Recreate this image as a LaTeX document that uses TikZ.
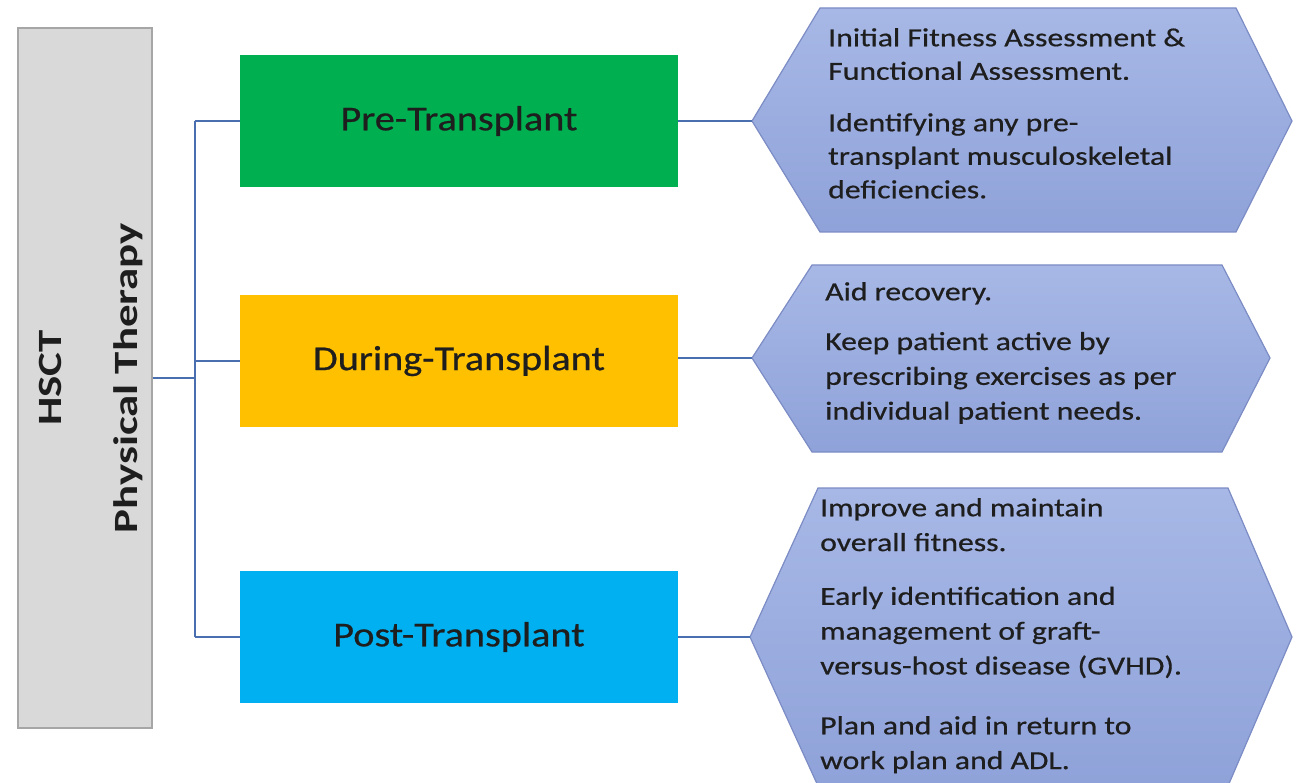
\documentclass[tikz,border=0pt]{standalone}
\usepackage{fontspec}
\setmainfont{Carlito}
\newfontfamily\phasefont{Carlito}[FakeStretch=1.15,FakeBold=0.6]
\newfontfamily\hexfont{Carlito}[FakeStretch=1.22,FakeBold=0.6]
\newfontfamily\rootfont{Carlito}[FakeStretch=1.32]
\definecolor{pregreen}{HTML}{00B050}
\definecolor{duryellow}{HTML}{FFC000}
\definecolor{postblue}{HTML}{00B0F0}
\definecolor{rootgray}{HTML}{D9D9D9}
\definecolor{rootedge}{HTML}{A6A6A6}
\definecolor{linkblue}{HTML}{4A6FB0}
\definecolor{hextop}{HTML}{A7B8E6}
\definecolor{hexbot}{HTML}{8FA2D9}
\definecolor{hexedge}{HTML}{7C8CC4}
\definecolor{ink}{HTML}{1E1E1E}
\tikzset{
  rootbox/.style={draw=rootedge, line width=1.2pt, fill=rootgray, minimum width=134pt, minimum height=700pt, inner sep=0pt},
  rootlabel/.style={inner sep=0pt, text=ink, font=\rootfont\fontsize{34}{41}\selectfont\bfseries},
  phase/.style={minimum width=438pt, minimum height=132pt, inner sep=0pt, text=ink,
                font=\phasefont\fontsize{35}{40}\selectfont},
  conn/.style={draw=linkblue, line width=1.6pt},
  hexbox/.style={draw=hexedge, line width=1.2pt, top color=hextop, bottom color=hexbot, line join=miter},
  hextext/.style={anchor=north west, align=left, inner sep=0pt, text=ink,
                  font=\hexfont\fontsize{26}{33.5}\selectfont}
}
\begin{document}
\begin{tikzpicture}[x=1pt,y=-1pt]
  \useasboundingbox (0,0) rectangle (1298,783);
  \clip (0,0) rectangle (1298,783);

  % root column and its rotated title
  \node[rootbox] (root) at (85,378) {};
  \node[rootlabel] (title) at (91,378) {\rotatebox{90}{%
    \begin{tabular}{@{}c@{}}HSCT\\[35pt]Physical Therapy\end{tabular}}};

  % phase boxes
  \node[phase, fill=pregreen]   (pre)  at (459,121) {Pre-Transplant};
  \node[phase, fill=duryellow]  (dur)  at (459,361) {During-Transplant};
  \node[phase, fill=postblue]   (post) at (459,637) {Post-Transplant};

  % hexagons with their tips
  \coordinate (h1L) at (752,121);  \coordinate (h1R) at (1292,121);
  \coordinate (h2L) at (752,358);  \coordinate (h2R) at (1270,358);
  \coordinate (h3L) at (750,637);  \coordinate (h3R) at (1292,637);
  \path[hexbox] (h1L) -- (820,8) -- (1236,8) -- (h1R) -- (1236,232) -- (820,232) -- cycle;
  \path[hexbox] (h2L) -- (812,265) -- (1222,265) -- (h2R) -- (1222,452) -- (812,452) -- cycle;
  \path[hexbox] (h3L) -- (818,488) -- (1228,488) -- (h3R) -- (1228,786) -- (818,786) -- cycle;

  % hexagon texts
  \node[hextext] (t1) at (828,28) {Initial Fitness Assessment \&\\Functional Assessment.\\[18pt]
    Identifying any pre-\\transplant musculoskeletal\\deficiencies.};
  \node[hextext, font=\hexfont\fontsize{26}{34.8}\selectfont] (t2) at (825,282) {Aid recovery.\\[15pt]
    Keep patient active by\\prescribing exercises as per\\individual patient needs.};
  \node[hextext, font=\hexfont\fontsize{26}{34.8}\selectfont] (t3) at (820,498) {Improve and maintain\\overall fitness.\\[19pt]
    Early identification and\\management of graft-\\versus-host disease (GVHD).\\[25pt]
    Plan and aid in return to\\work plan and ADL.};

  % connectors
  \coordinate (trunk) at (195,378);
  \draw[conn] (root.east |- trunk) -- (trunk);
  \draw[conn] (trunk |- pre.west) -- (trunk |- post.west);
  \draw[conn] (trunk |- pre.west) -- (pre.west);
  \draw[conn] (trunk |- dur.west) -- (dur.west);
  \draw[conn] (trunk |- post.west) -- (post.west);
  \draw[conn] (pre.east |- h1L) -- (h1L);
  \draw[conn] (dur.east |- h2L) -- (h2L);
  \draw[conn] (post.east |- h3L) -- (h3L);
\end{tikzpicture}
\end{document}
